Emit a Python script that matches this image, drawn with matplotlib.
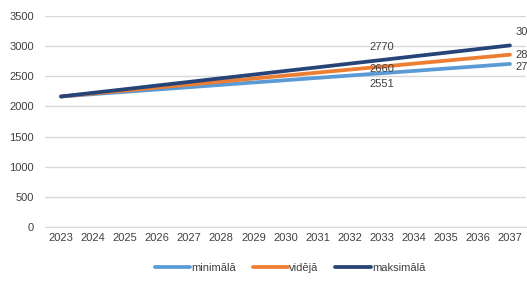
import matplotlib
matplotlib.use("Agg")
import matplotlib.pyplot as plt

plt.rcParams['font.family'] = ['Liberation Sans', 'DejaVu Sans']

years = [str(y) for y in range(2023, 2038)]
minimala = [2165, 2204, 2242, 2281, 2319, 2358, 2397, 2435, 2474, 2512, 2551, 2589, 2628, 2666, 2705]
videja = [2165, 2215, 2264, 2314, 2363, 2413, 2462, 2512, 2561, 2611, 2660, 2710, 2759, 2809, 2858]
maksimala = [2165, 2226, 2286, 2347, 2407, 2468, 2528, 2589, 2649, 2710, 2770, 2831, 2891, 2952, 3012]
series = [("minimālā", minimala, "#5B9BD5"),
          ("vidējā", videja, "#ED7D31"),
          ("maksimālā", maksimala, "#264478")]

fig = plt.figure(figsize=(5.27, 2.82), dpi=100)
ax = fig.add_axes([45 / 527, 1 - 227 / 282, (526 - 45) / 527, (227 - 16) / 282])

x = list(range(len(years)))
for name, vals, col in series:
    ax.plot(x, vals, color=col, lw=2.7, label=name, solid_capstyle="round")

ax.set_xlim(-0.5, len(years) - 0.5)
ax.set_ylim(0, 3500)
ax.set_yticks(range(0, 3501, 500))
ax.set_xticks(x)
ax.set_xticklabels(years)
ax.grid(axis="y", color="#D9D9D9", lw=1)
ax.set_axisbelow(True)
for s in ["top", "right", "left"]:
    ax.spines[s].set_visible(False)
ax.spines["bottom"].set_color("#D9D9D9")
ax.tick_params(axis="both", length=0, labelsize=8, colors="#404040")
ax.tick_params(axis="y", pad=8)
ax.tick_params(axis="x", pad=4)

# data labels at 2033
i = years.index("2033")
ax.annotate(f"{maksimala[i]}", (i, maksimala[i]), xytext=(0, 6), textcoords="offset points",
            ha="center", va="bottom", fontsize=8, color="#404040")
ax.annotate(f"{videja[i]}", (i, videja[i]), xytext=(0, -2), textcoords="offset points",
            ha="center", va="center", fontsize=8, color="#404040")
ax.annotate(f"{minimala[i]}", (i, minimala[i]), xytext=(0, -4), textcoords="offset points",
            ha="center", va="top", fontsize=8, color="#404040")
# data labels at 2037 (cut by the figure edge, as in the source)
j = len(years) - 1
ax.annotate(f"{maksimala[j]}", (j, maksimala[j]), xytext=(4, 6), textcoords="offset points",
            ha="left", va="bottom", fontsize=8, color="#404040", annotation_clip=False)
ax.annotate(f"{videja[j]}", (j, videja[j]), xytext=(4, 0), textcoords="offset points",
            ha="left", va="center", fontsize=8, color="#404040", annotation_clip=False)
ax.annotate(f"{minimala[j]}", (j, minimala[j]), xytext=(4, -2), textcoords="offset points",
            ha="left", va="center", fontsize=8, color="#404040", annotation_clip=False)

fig.legend(loc="center", bbox_to_anchor=(290 / 527, 1 - 268 / 282), ncol=3, frameon=False,
           fontsize=8, handlelength=3.2, handletextpad=0.1, columnspacing=1.5,
           labelcolor="#404040")

fig.savefig("out.png", dpi=100)
